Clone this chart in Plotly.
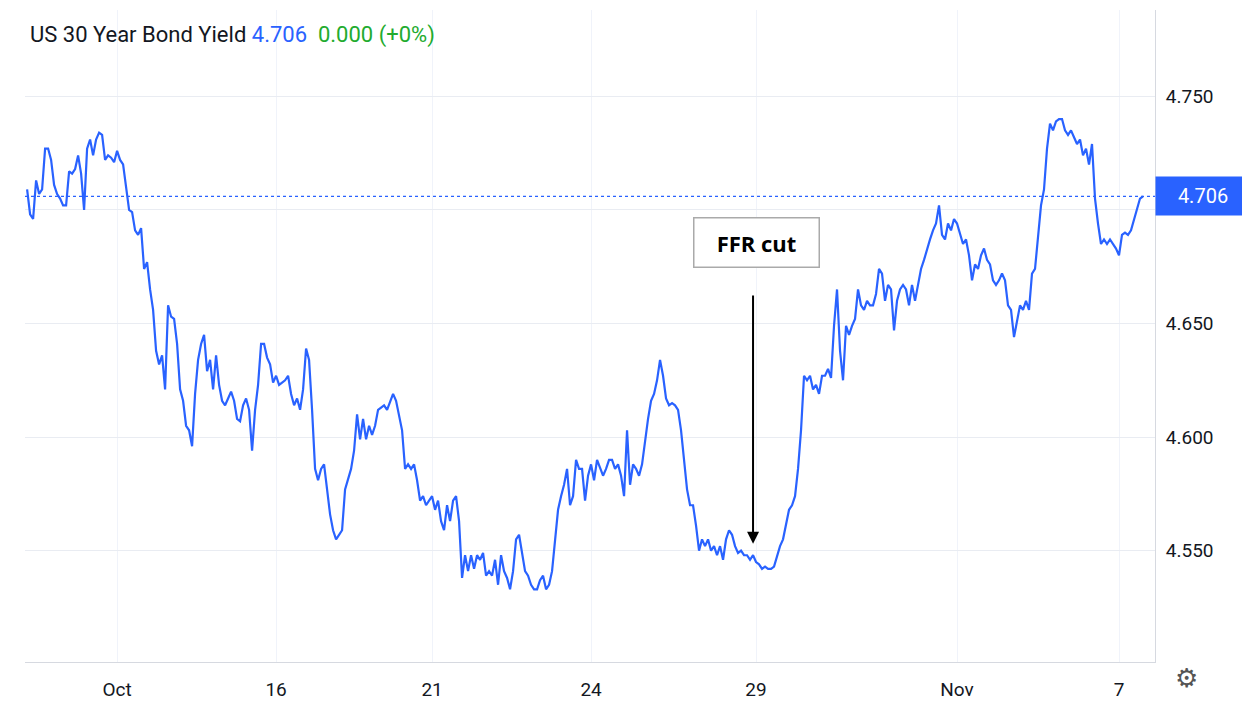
import plotly.graph_objects as go

yields = [4.709,4.698,4.696,4.713,4.707,4.709,4.727,4.727,4.722,4.711,4.707,4.705,4.702,4.702,4.717,4.716,4.718,4.724,4.716,4.700,4.727,4.731,4.724,4.731,4.734,4.733,4.722,4.724,4.723,4.721,4.726,4.722,4.720,4.709,4.700,4.699,4.691,4.689,4.692,4.674,4.677,4.665,4.656,4.638,4.632,4.636,4.621,4.658,4.653,4.652,4.641,4.621,4.616,4.605,4.603,4.596,4.619,4.634,4.641,4.645,4.629,4.634,4.621,4.636,4.623,4.616,4.614,4.617,4.620,4.616,4.608,4.607,4.614,4.617,4.612,4.594,4.612,4.623,4.641,4.641,4.635,4.632,4.624,4.627,4.623,4.624,4.625,4.627,4.619,4.614,4.617,4.612,4.621,4.639,4.634,4.612,4.586,4.581,4.586,4.588,4.577,4.566,4.559,4.555,4.557,4.559,4.577,4.581,4.586,4.594,4.610,4.599,4.608,4.599,4.605,4.601,4.605,4.612,4.613,4.614,4.612,4.616,4.619,4.616,4.610,4.603,4.586,4.588,4.586,4.588,4.581,4.572,4.574,4.570,4.572,4.574,4.568,4.572,4.563,4.559,4.570,4.563,4.572,4.574,4.563,4.538,4.548,4.541,4.548,4.542,4.548,4.546,4.549,4.539,4.541,4.539,4.546,4.535,4.548,4.541,4.538,4.533,4.541,4.555,4.557,4.548,4.541,4.539,4.535,4.533,4.533,4.537,4.539,4.533,4.535,4.541,4.555,4.568,4.574,4.579,4.586,4.570,4.574,4.590,4.586,4.586,4.572,4.583,4.588,4.581,4.590,4.586,4.583,4.586,4.590,4.590,4.586,4.588,4.583,4.574,4.603,4.579,4.588,4.586,4.583,4.588,4.599,4.608,4.616,4.619,4.625,4.634,4.627,4.617,4.614,4.615,4.614,4.612,4.603,4.590,4.577,4.570,4.570,4.561,4.550,4.555,4.552,4.555,4.550,4.552,4.548,4.552,4.546,4.555,4.559,4.557,4.552,4.549,4.550,4.548,4.548,4.546,4.548,4.545,4.544,4.542,4.543,4.542,4.542,4.543,4.548,4.552,4.555,4.561,4.568,4.570,4.574,4.586,4.603,4.627,4.625,4.627,4.621,4.623,4.619,4.627,4.627,4.630,4.626,4.649,4.665,4.638,4.625,4.649,4.645,4.649,4.652,4.665,4.658,4.656,4.660,4.658,4.658,4.663,4.674,4.672,4.660,4.667,4.665,4.647,4.660,4.665,4.667,4.665,4.658,4.667,4.660,4.667,4.674,4.678,4.683,4.687,4.691,4.694,4.702,4.689,4.687,4.694,4.691,4.696,4.694,4.689,4.685,4.687,4.680,4.669,4.676,4.674,4.680,4.683,4.678,4.676,4.669,4.667,4.669,4.672,4.669,4.658,4.656,4.644,4.652,4.658,4.656,4.660,4.656,4.672,4.674,4.687,4.702,4.709,4.727,4.738,4.735,4.739,4.740,4.740,4.735,4.733,4.735,4.732,4.729,4.731,4.724,4.727,4.720,4.729,4.705,4.694,4.685,4.687,4.685,4.687,4.685,4.683,4.680,4.689,4.690,4.689,4.691,4.696,4.700,4.705,4.706]
tick_pos = [30, 83, 135, 188, 243, 310, 364]
tick_text = ["Oct", "16", "21", "24", "29", "Nov", "7"]
y_ticks = [4.550, 4.600, 4.650, 4.700, 4.750]
y_text = ["4.550", "4.600", "4.650", "", "4.750"]
last = 4.706
ffr_idx = 242

x = list(range(len(yields)))
fig = go.Figure()
fig.add_trace(go.Scatter(x=x, y=yields, mode="lines", line=dict(color="#2962ff", width=2.2), hoverinfo="skip"))
fig.add_hline(y=last, line=dict(color="#2962ff", width=1.2, dash="dot"))

fig.update_layout(
    width=1250, height=724, paper_bgcolor="white", plot_bgcolor="white",
    margin=dict(l=17, r=103, t=2, b=70), showlegend=False,
    font=dict(family="Roboto, Liberation Sans, sans-serif", color="#131722"),
    xaxis=dict(range=[-0.7, 376], tickvals=tick_pos, ticktext=tick_text, showgrid=True,
               gridcolor="#f0f3fa", zeroline=False, showline=True, linecolor="#d6d9e0",
               ticks="", ticklabelstandoff=10, tickfont=dict(size=19, color="#131722")),
    yaxis=dict(range=[4.501, 4.788], side="right", tickvals=y_ticks, ticktext=y_text,
               showgrid=True, gridcolor="#e9ecf2", zeroline=False, showline=True,
               linecolor="#d6d9e0", ticks="", ticklabelstandoff=6,
               tickfont=dict(size=19, color="#131722")),
)
fig.add_annotation(xref="paper", yref="paper", x=0.003, y=0.985, xanchor="left", yanchor="top",
                   showarrow=False, font=dict(size=22),
                   text="<span style='color:#131722'>US 30 Year Bond Yield</span> "
                        "<span style='color:#2962ff'>4.706</span>  "
                        "<span style='color:#22ab2e'>0.000 (+0%)</span>")
fig.add_annotation(xref="paper", yref="y", x=1.0, y=last, xanchor="left", showarrow=False,
                   text="   4.706  ", bgcolor="#2962ff", font=dict(color="white", size=20),
                   borderpad=7)
fig.add_annotation(x=ffr_idx, y=4.553, ax=ffr_idx, ay=4.663, xref="x", yref="y", axref="x", ayref="y",
                   showarrow=True, arrowhead=2, arrowsize=1.2, arrowwidth=2, arrowcolor="black", text="")
fig.add_annotation(x=ffr_idx + 1, y=4.6855, xref="x", yref="y", showarrow=False, text="<b>FFR cut</b>",
                   font=dict(size=22, color="black", family="Open Sans, sans-serif"),
                   bordercolor="#aaaaaa", borderwidth=1.5, borderpad=9, bgcolor="white", width=106)
fig.add_annotation(xref="paper", yref="paper", x=1.04, y=-0.05, showarrow=False, text="⚙",
                   font=dict(size=26, color="#555"))
fig.write_html("out.html")
